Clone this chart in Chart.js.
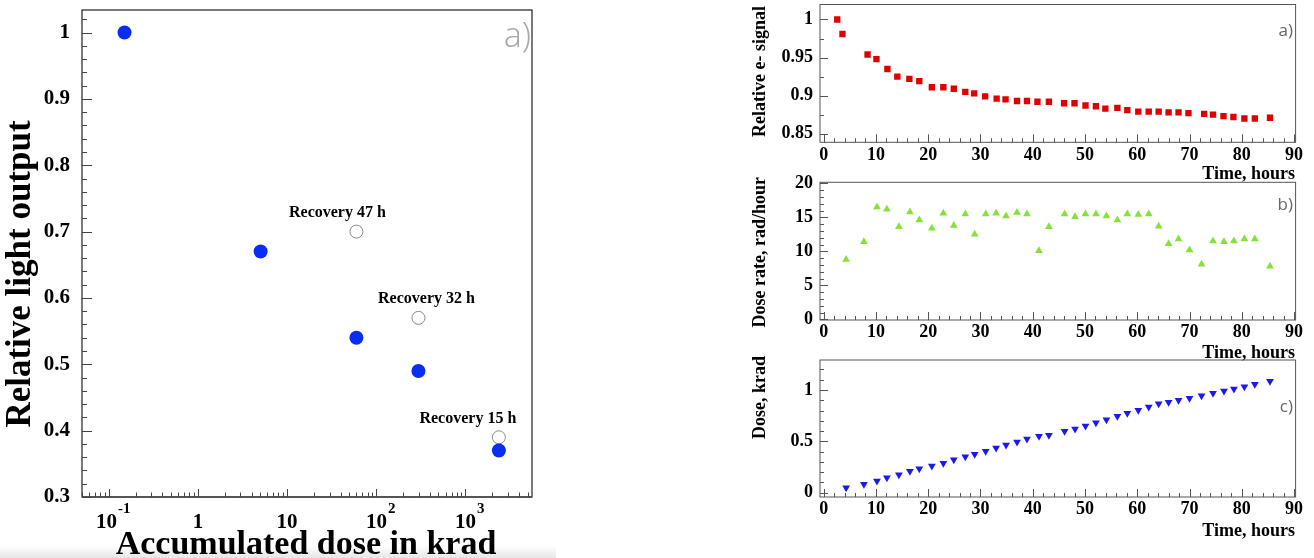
<!DOCTYPE html>
<html>
<head>
<meta charset="utf-8">
<script src="https://cdn.jsdelivr.net/npm/chart.js@4.4.1/dist/chart.umd.min.js"></script>
<style>
  html, body { margin: 0; padding: 0; background: #fff; }
  body { width: 1314px; height: 558px; position: relative; overflow: hidden; }
  .panel { position: absolute; }
  .shade { position: absolute; left: 0; top: 546px; width: 556px; height: 12px; background: linear-gradient(#fff, #e6e6e6); }
</style>
</head>
<body>
<div class="shade"></div>
<div class="panel" style="left:0;top:0;width:560px;height:558px"><canvas id="light"></canvas></div>
<div class="panel" style="left:740px;top:0;width:574px;height:190px"><canvas id="signal"></canvas></div>
<div class="panel" style="left:740px;top:170px;width:574px;height:198px"><canvas id="rate"></canvas></div>
<div class="panel" style="left:740px;top:348px;width:574px;height:210px"><canvas id="dose"></canvas></div>
<script>
// left: light output vs accumulated dose
const doseKrad = [0.15, 5.05, 60, 298, 2380];
const lightOutput = [1.0, 0.67, 0.54, 0.49, 0.37];
const recoveryDose = [60, 298, 2380];
const recoveryOutput = [0.70, 0.57, 0.39];
const recoveryText = ['Recovery 47 h', 'Recovery 32 h', 'Recovery 15 h'];
const doseDecades = [0.1, 1, 10, 100, 1000];
const lightTicks = [0.3, 0.4, 0.5, 0.6, 0.7, 0.8, 0.9, 1];

// right a): relative e- signal
const timeSignal = [2.6, 3.6, 8.4, 10.1, 12.2, 14.1, 16.4, 18.3, 20.7, 22.9, 24.9, 27.1, 28.8, 30.9, 33.1, 34.8, 37.0, 38.9, 40.9, 43.1,
  46.0, 48.0, 50.1, 52.1, 53.9, 56.2, 58.1, 60.2, 62.2, 64.1, 66.0, 67.9, 69.8, 72.8, 74.5, 76.5, 78.4, 80.5, 82.5, 85.4];
const eSignal = [1.0, 0.981, 0.954, 0.948, 0.935, 0.925, 0.922, 0.919, 0.911, 0.911, 0.909, 0.905, 0.903, 0.899, 0.896, 0.895, 0.893, 0.893, 0.892, 0.892,
  0.890, 0.890, 0.887, 0.886, 0.883, 0.884, 0.881, 0.879, 0.879, 0.879, 0.878, 0.878, 0.877, 0.876, 0.875, 0.873, 0.872, 0.870, 0.870, 0.871];

// right b) and c): dose rate and dose
const timeIrr = [4.3, 7.7, 10.2, 12.1, 14.4, 16.5, 18.3, 20.7, 22.9, 24.9, 27.1, 28.9, 31.0, 33.0, 34.9, 37.0, 38.9, 41.2, 43.1, 46.1,
  48.1, 50.1, 52.1, 54.1, 56.2, 58.1, 60.2, 62.2, 64.1, 66.0, 67.9, 70.0, 72.3, 74.5, 76.6, 78.5, 80.5, 82.5, 85.4];
const doseRate = [8.8, 11.4, 16.5, 16.2, 13.6, 15.8, 14.6, 13.4, 15.6, 13.8, 15.5, 12.5, 15.5, 15.6, 15.2, 15.7, 15.5, 10.1, 13.6, 15.5,
  15.1, 15.5, 15.5, 15.2, 14.6, 15.5, 15.4, 15.5, 13.7, 11.1, 11.8, 10.2, 8.1, 11.5, 11.4, 11.5, 11.8, 11.8, 7.8];
const doseAccum = [0.049, 0.081, 0.114, 0.146, 0.175, 0.208, 0.234, 0.26, 0.286, 0.321, 0.351, 0.374, 0.403, 0.435, 0.464, 0.494, 0.523, 0.549, 0.559, 0.598,
  0.62, 0.649, 0.682, 0.711, 0.744, 0.773, 0.802, 0.834, 0.865, 0.88, 0.90, 0.92, 0.945, 0.968, 0.99, 1.01, 1.032, 1.055, 1.085];

const timeTicks = [0, 10, 20, 30, 40, 50, 60, 70, 80, 90];
const signalTicks = [0.85, 0.9, 0.95, 1];
const rateTicks = [0, 5, 10, 15, 20];
const doseTicks = [0, 0.5, 1];

const SERIF = "'Liberation Serif', 'Times New Roman', serif";
const SANS = "'Open Sans', 'Liberation Sans', sans-serif";

const pts = (xs, ys) => xs.map((x, i) => ({ x: x, y: ys[i] }));

// tick positions for the inward ROOT style tick marks
function marks(scale, o) {
    const out = [];
    if (o.log) {
        for (let e = -3; e <= 5; e++) {
            for (let m = 1; m <= 9; m++) {
                const v = m * Math.pow(10, e);
                if (v >= scale.min && v <= scale.max) out.push([v, m === 1]);
            }
        }
        return out;
    }
    const n0 = Math.ceil(scale.min / o.minor - 1e-9);
    const n1 = Math.floor(scale.max / o.minor + 1e-9);
    for (let n = n0; n <= n1; n++) {
        const v = n * o.minor;
        const r = v / o.major;
        out.push([v, Math.abs(r - Math.round(r)) < 1e-6]);
    }
    return out;
}

function framePlugin(f) {
    return {
        id: 'frame',
        beforeDatasetsDraw(chart) {
            const { ctx, chartArea: a, scales } = chart;
            const line = (x1, y1, x2, y2) => { ctx.beginPath(); ctx.moveTo(x1, y1); ctx.lineTo(x2, y2); ctx.stroke(); };
            ctx.save();
            ctx.strokeStyle = f.color;
            ctx.lineWidth = f.width;
            ctx.strokeRect(a.left, a.top, a.right - a.left, a.bottom - a.top);
            if (f.axisColor) {
                ctx.strokeStyle = f.axisColor;
                ctx.lineWidth = f.axisWidth;
                line(a.left, a.bottom, a.right, a.bottom);
            }
            ctx.strokeStyle = f.tickColor;
            ctx.lineWidth = 1;
            marks(scales.x, f.x).forEach(([v, major]) => {
                const p = Math.round(scales.x.getPixelForValue(v)) + 0.5;
                line(p, a.bottom, p, a.bottom - (major ? f.x.len[0] : f.x.len[1]));
            });
            marks(scales.y, f.y).forEach(([v, major]) => {
                const p = Math.round(scales.y.getPixelForValue(v)) + 0.5;
                line(a.left, p, a.left + (major ? f.y.len[0] : f.y.len[1]), p);
            });
            ctx.restore();
        },
        afterDraw(chart) {
            if (!f.decades) return;
            // 10^n labels of the log axis
            const { ctx, chartArea: a, scales } = chart;
            const d = f.decades;
            ctx.save();
            ctx.fillStyle = '#000';
            ctx.textBaseline = 'alphabetic';
            scales.x.ticks.forEach(t => {
                const px = scales.x.getPixelForValue(t.value);
                const e = Math.round(Math.log10(t.value));
                const y = a.bottom + d.dy;
                ctx.font = d.font;
                if (e === 0 || e === 1) {
                    ctx.textAlign = 'center';
                    ctx.fillText(e === 0 ? '1' : '10', px, y);
                    return;
                }
                const w10 = ctx.measureText('10').width;
                ctx.font = d.supFont;
                const we = ctx.measureText(String(e)).width;
                const x0 = px - w10 / 2 - we / 2 + 4;
                ctx.textAlign = 'left';
                ctx.font = d.font;
                ctx.fillText('10', x0, y);
                ctx.font = d.supFont;
                ctx.fillText(String(e), x0 + w10 + 1, y - d.rise);
            });
            ctx.restore();
        }
    };
}

function notesPlugin(items) {
    return {
        id: 'notes',
        afterDraw(chart) {
            const ctx = chart.ctx;
            items.forEach(it => {
                let x = it.x, y = it.y;
                if (it.xv !== undefined) {
                    x = chart.scales.x.getPixelForValue(it.xv) + (it.dx || 0);
                    y = chart.scales.y.getPixelForValue(it.yv) + (it.dy || 0);
                }
                ctx.save();
                ctx.translate(x, y);
                if (it.rotate) ctx.rotate(it.rotate * Math.PI / 180);
                ctx.font = it.font;
                ctx.fillStyle = it.color || '#000';
                ctx.textAlign = it.align || 'center';
                ctx.textBaseline = 'alphabetic';
                ctx.fillText(it.text, 0, 0);
                ctx.restore();
            });
        }
    };
}

function axis(o) {
    return {
        type: o.type || 'linear',
        min: o.min,
        max: o.max,
        grid: { display: false, drawTicks: false },
        border: { display: false },
        ticks: {
            display: o.labels !== false,
            padding: o.pad,
            autoSkip: false,
            maxRotation: 0,
            color: '#000',
            font: { family: SERIF, weight: 'bold', size: o.size },
            callback: v => String(+Number(v).toFixed(3))
        },
        afterBuildTicks: s => { s.ticks = o.ticks.map(v => ({ value: v })); },
        afterFit: s => {
            if (s.isHorizontal()) s.height = o.band;
            else s.width = o.band;
            s.paddingLeft = s.paddingRight = s.paddingTop = s.paddingBottom = 0;
        }
    };
}

function scatter(id, c) {
    return new Chart(document.getElementById(id), {
        type: 'scatter',
        data: { datasets: c.datasets },
        options: {
            responsive: true,
            maintainAspectRatio: false,
            animation: false,
            devicePixelRatio: 1,
            events: [],
            layout: { padding: c.padding },
            plugins: { legend: { display: false }, tooltip: { enabled: false } },
            scales: { x: c.x, y: c.y }
        },
        plugins: [framePlugin(c.frame), notesPlugin(c.notes)]
    });
}

const rightFrame = (yMajor, yMinor) => ({
    color: '#555', width: 1, tickColor: '#555',
    x: { major: 10, minor: 2, len: [8, 4] },
    y: { major: yMajor, minor: yMinor, len: [8, 4] }
});
const titleFont = 'bold 18px ' + SERIF;
const markFont = '17px ' + SANS;
const timeAxis = band => axis({ min: -0.7, max: 90.3, ticks: timeTicks, size: 18, pad: 2, band: band });

scatter('light', {
    padding: { top: 10, right: 28, left: 0, bottom: 0 },
    datasets: [
        { data: pts(doseKrad, lightOutput), pointStyle: 'circle', pointRadius: 7, backgroundColor: '#0a2df5', borderWidth: 0 },
        { data: pts(recoveryDose, recoveryOutput), pointStyle: 'circle', pointRadius: 6.5, backgroundColor: 'rgba(0,0,0,0)', borderColor: '#8a8a8a', borderWidth: 1 }
    ],
    x: axis({ type: 'logarithmic', min: 0.05, max: 5600, ticks: doseDecades, labels: false, band: 61 }),
    y: axis({ min: 0.3, max: 1.034, ticks: lightTicks, size: 21, pad: 12, band: 82 }),
    frame: {
        color: '#222', width: 1.2, tickColor: '#444', axisColor: '#555', axisWidth: 2,
        x: { log: true, len: [8, 4.5] },
        y: { major: 0.1, minor: 0.02, len: [10, 5] },
        decades: { font: 'bold 21px ' + SERIF, supFont: 'bold 15px ' + SERIF, dy: 31, rise: 15 }
    },
    notes: [
        { text: 'Relative light output', x: 30, y: 274, rotate: -90, font: 'bold 35px ' + SERIF },
        { text: 'Accumulated dose in krad', x: 306, y: 554, font: 'bold 34px ' + SERIF },
        { text: 'a)', x: 531, y: 47, align: 'right', font: '300 34px ' + SANS, color: '#a8a8a8' },
        { text: recoveryText[0], xv: recoveryDose[0], yv: recoveryOutput[0], dx: -19, dy: -14.5, font: 'bold 16px ' + SERIF },
        { text: recoveryText[1], xv: recoveryDose[1], yv: recoveryOutput[1], dx: 8, dy: -14.5, font: 'bold 16px ' + SERIF },
        { text: recoveryText[2], xv: recoveryDose[2], yv: recoveryOutput[2], dx: -31, dy: -14.5, font: 'bold 16px ' + SERIF }
    ]
});

scatter('signal', {
    padding: { top: 4.3, right: 18.4, left: 0, bottom: 0 },
    datasets: [
        { data: pts(timeSignal, eSignal), pointStyle: 'rect', pointRadius: 4.5, backgroundColor: '#e00000', borderWidth: 0 }
    ],
    x: timeAxis(47.7),
    y: axis({ min: 0.8387, max: 1.0197, ticks: signalTicks, size: 18, pad: 7, band: 80 }),
    frame: rightFrame(0.05, 0.025),
    notes: [
        { text: 'Relative e- signal', x: 25, y: 6, rotate: -90, align: 'right', font: titleFont },
        { text: 'Time, hours', x: 555, y: 179, align: 'right', font: titleFont },
        { text: 'a)', x: 553, y: 36, align: 'right', font: markFont, color: '#666' }
    ]
});

scatter('rate', {
    padding: { top: 12.3, right: 18.4, left: 0, bottom: 0 },
    datasets: [
        { data: pts(timeIrr, doseRate), pointStyle: 'triangle', pointRadius: 4.5, backgroundColor: '#86e23a', borderWidth: 0 }
    ],
    x: timeAxis(48),
    y: axis({ min: -0.1, max: 20.15, ticks: rateTicks, size: 18, pad: 7, band: 80 }),
    frame: rightFrame(5, 1),
    notes: [
        { text: 'Dose rate, rad/hour', x: 25, y: 7, rotate: -90, align: 'right', font: titleFont },
        { text: 'Time, hours', x: 555, y: 188, align: 'right', font: titleFont },
        { text: 'b)', x: 553, y: 40, align: 'right', font: markFont, color: '#666' }
    ]
});

scatter('dose', {
    padding: { top: 12, right: 18.4, left: 0, bottom: 0 },
    datasets: [
        { data: pts(timeIrr, doseAccum), pointStyle: 'triangle', rotation: 180, pointRadius: 4.5, backgroundColor: '#1a1af0', borderWidth: 0 }
    ],
    x: timeAxis(61),
    y: axis({ min: -0.042, max: 1.292, ticks: doseTicks, size: 18, pad: 7, band: 80 }),
    frame: rightFrame(0.5, 0.1),
    notes: [
        { text: 'Dose, krad', x: 25, y: 8, rotate: -90, align: 'right', font: titleFont },
        { text: 'Time, hours', x: 555, y: 188, align: 'right', font: titleFont },
        { text: 'c)', x: 553, y: 64, align: 'right', font: markFont, color: '#666' }
    ]
});
</script>
</body>
</html>
